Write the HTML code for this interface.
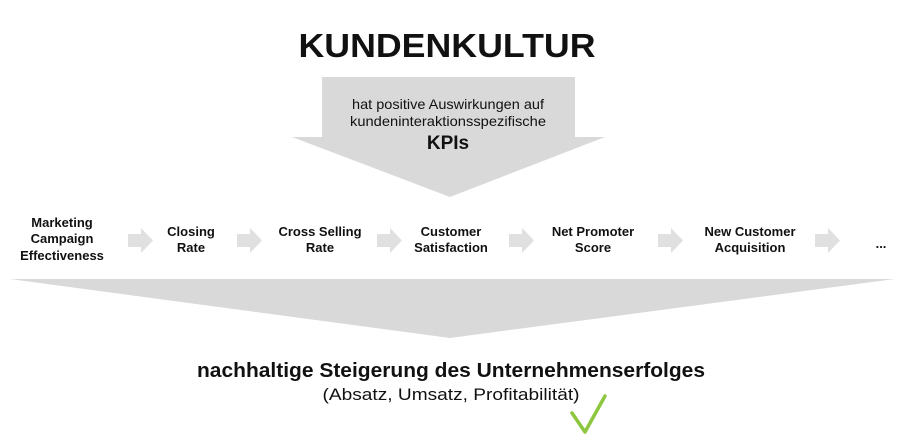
<!DOCTYPE html>
<html><head><meta charset="utf-8"><style>
html,body{margin:0;padding:0;background:#fff;}
svg{display:block;}
text{font-family:"Liberation Sans",Arial,sans-serif;fill:#111;}
</style></head><body>
<svg width="908" height="448" viewBox="0 0 908 448" xmlns="http://www.w3.org/2000/svg">
<text x="447" y="57" font-size="33" font-weight="bold" text-anchor="middle" textLength="297" lengthAdjust="spacingAndGlyphs">KUNDENKULTUR</text>
<polygon points="322,77 575,77 575,137 605,137 450,197 292,137 322,137" fill="#d9d9d9"/>
<text x="448" y="109" font-size="14" text-anchor="middle" textLength="192" lengthAdjust="spacingAndGlyphs">hat positive Auswirkungen auf</text>
<text x="448" y="126" font-size="14" text-anchor="middle" textLength="196" lengthAdjust="spacingAndGlyphs">kundeninteraktionsspezifische</text>
<text x="448" y="149" font-size="19" font-weight="bold" text-anchor="middle">KPIs</text>
<polygon points="10,279 895,279 450,338" fill="#d9d9d9"/>
<g fill="#e0e0e0">
<polygon points="128,234 141,234 141,228 153,240.5 141,253 141,247 128,247"/>
<polygon points="237,234 250,234 250,228 262,240.5 250,253 250,247 237,247"/>
<polygon points="377,234 390,234 390,228 402,240.5 390,253 390,247 377,247"/>
<polygon points="509,234 522,234 522,228 534,240.5 522,253 522,247 509,247"/>
<polygon points="658,234 671,234 671,228 683,240.5 671,253 671,247 658,247"/>
<polygon points="815,234 828,234 828,228 840,240.5 828,253 828,247 815,247"/>
</g>
<g font-size="13" font-weight="bold" text-anchor="middle">
<text x="62" y="227">Marketing</text>
<text x="62" y="243">Campaign</text>
<text x="62" y="260">Effectiveness</text>
<text x="191" y="236">Closing</text>
<text x="191" y="252">Rate</text>
<text x="320" y="236">Cross Selling</text>
<text x="320" y="252">Rate</text>
<text x="451" y="236">Customer</text>
<text x="451" y="252">Satisfaction</text>
<text x="593" y="236">Net Promoter</text>
<text x="593" y="252">Score</text>
<text x="750" y="236">New Customer</text>
<text x="750" y="252">Acquisition</text>
<text x="881" y="248">...</text>
</g>
<text x="451" y="377" font-size="20" font-weight="bold" text-anchor="middle" textLength="508" lengthAdjust="spacingAndGlyphs">nachhaltige Steigerung des Unternehmenserfolges</text>
<text x="451" y="400" font-size="17" text-anchor="middle" textLength="257" lengthAdjust="spacingAndGlyphs">(Absatz, Umsatz, Profitabilität)</text>
<polyline points="572,413 585,432 605,396" fill="none" stroke="#8dc63f" stroke-width="3.5" stroke-linecap="round" stroke-linejoin="round"/>
</svg>
</body></html>
